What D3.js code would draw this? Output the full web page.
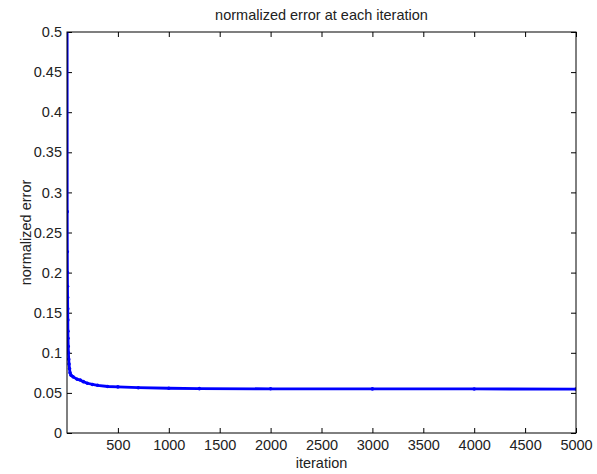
<!DOCTYPE html>
<html>
<head>
<meta charset="utf-8">
<script src="https://cdn.jsdelivr.net/npm/d3@7"></script>
<style>
  body { margin: 0; background: #fff; }
  svg text { font-family: "Liberation Sans", Arial, sans-serif; fill: #222; }
</style>
</head>
<body>
<div id="graph"></div>
<script>
// iterations and normalized error
var iterations = [1, 2, 3, 4, 5, 6, 7, 8, 9, 10, 12, 14, 17, 20, 25, 30, 40, 60, 100, 130, 160, 200, 250, 300, 400, 500, 700, 1000, 1300, 2000, 3000, 4000, 5000];
var errors = [0.62, 0.276, 0.226, 0.200, 0.183, 0.169, 0.155, 0.141, 0.127, 0.118, 0.108, 0.100, 0.092, 0.086, 0.080, 0.075, 0.072, 0.070, 0.067, 0.066, 0.064, 0.062, 0.0605, 0.0595, 0.058, 0.0575, 0.0565, 0.0558, 0.0553, 0.0551, 0.055, 0.0549, 0.0548];
var xTicks = [500, 1000, 1500, 2000, 2500, 3000, 3500, 4000, 4500, 5000];
var yTicks = [0, 0.05, 0.1, 0.15, 0.2, 0.25, 0.3, 0.35, 0.4, 0.45, 0.5];

var margin = {top: 32, right: 21, bottom: 41, left: 67},
    W = 597, H = 474,
    w = W - margin.left - margin.right,
    h = H - margin.top - margin.bottom;

var data = iterations.map(function(d, i) { return {it: d, err: errors[i]}; });

var x = d3.scaleLinear().domain([0, 5000]).range([0, w]);
var y = d3.scaleLinear().domain([0, 0.5]).range([h, 0]);

var svg = d3.select("#graph").append("svg")
    .attr("width", W)
    .attr("height", H)
    .append("g")
    .attr("transform", "translate(" + margin.left + "," + margin.top + ")");

svg.append("defs").append("clipPath").attr("id", "clip")
    .append("rect").attr("width", w).attr("height", h);

// ticks on every side, pointing inward
function styleAxis(g) {
    g.select(".domain").remove();
    g.selectAll("line").attr("stroke", "#000");
    g.selectAll("text").style("font-size", "14.5px");
}

svg.append("g")
    .attr("transform", "translate(0," + h + ")")
    .call(d3.axisBottom(x).tickValues(xTicks).tickSizeInner(-5).tickPadding(7).tickFormat(d3.format("d")))
    .call(styleAxis);
svg.append("g")
    .call(d3.axisTop(x).tickValues(xTicks).tickSizeInner(-5).tickFormat(""))
    .call(styleAxis);
svg.append("g")
    .call(d3.axisLeft(y).tickValues(yTicks).tickSizeInner(-5).tickPadding(5).tickFormat(function(d) { return d3.format("")(+d.toFixed(2)); }))
    .call(styleAxis);
svg.append("g")
    .attr("transform", "translate(" + w + ",0)")
    .call(d3.axisRight(y).tickValues(yTicks).tickSizeInner(-5).tickFormat(""))
    .call(styleAxis);

var line = d3.line()
    .x(function(d) { return x(d.it); })
    .y(function(d) { return y(d.err); });

var plot = svg.append("g").attr("clip-path", "url(#clip)");
plot.append("path")
    .datum(data)
    .attr("fill", "none")
    .attr("stroke", "#0000ff")
    .attr("stroke-width", 2.8)
    .attr("d", line);
plot.selectAll(".dot")
    .data(data)
    .enter().append("circle")
    .attr("class", "dot")
    .attr("cx", function(d) { return x(d.it); })
    .attr("cy", function(d) { return y(d.err); })
    .attr("r", 1.8)
    .attr("fill", "#0000ff");

// box
svg.append("rect")
    .attr("width", w).attr("height", h)
    .attr("fill", "none").attr("stroke", "#000").attr("stroke-width", 1);

svg.append("text")
    .attr("x", w / 2).attr("y", -12)
    .attr("text-anchor", "middle")
    .style("font-size", "14.5px")
    .text("normalized error at each iteration");

svg.append("text")
    .attr("x", w / 2).attr("y", h + 35)
    .attr("text-anchor", "middle")
    .style("font-size", "14.5px")
    .text("iteration");

svg.append("text")
    .attr("transform", "translate(" + (31 - margin.left) + "," + (h / 2) + ") rotate(-90)")
    .attr("text-anchor", "middle")
    .style("font-size", "14.5px")
    .text("normalized error");
</script>
</body>
</html>
